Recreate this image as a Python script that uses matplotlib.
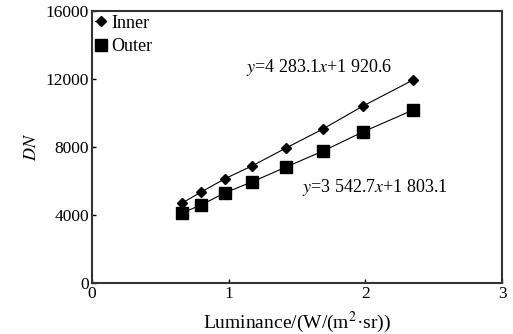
import matplotlib
matplotlib.use("Agg")
import matplotlib.pyplot as plt

plt.rcParams['font.family'] = ['Liberation Serif', 'DejaVu Serif']
plt.rcParams['mathtext.fontset'] = 'stix'

luminance = [0.66, 0.80, 0.97, 1.17, 1.42, 1.69, 1.98, 2.35]
inner_dn = [4700, 5350, 6120, 6880, 7940, 9060, 10400, 11950]
outer_dn = [4120, 4590, 5290, 5940, 6820, 7760, 8880, 10180]
xticks = [0, 1, 2, 3]
yticks = [0, 4000, 8000, 12000, 16000]

fig = plt.figure(figsize=(5.13, 3.34), dpi=100)
ax = fig.add_axes([0.179, 0.153, 0.800, 0.814])

ax.plot(luminance, inner_dn, color='black', lw=0.8, marker='D', markersize=5.5, label='Inner')
ax.plot(luminance, outer_dn, color='black', lw=0.8, marker='s', markersize=8, label='Outer')

ax.set_xlim(0, 3)
ax.set_ylim(0, 16000)
ax.set_xticks(xticks)
ax.set_yticks(yticks)
ax.tick_params(direction='in', labelsize=12.5, length=3, width=1, pad=2)
for s in ax.spines.values():
    s.set_linewidth(1.5)
    s.set_color('#333333')

ax.set_xlabel('Luminance/(W/(m$^2$·sr))', fontsize=14, labelpad=6)
ax.set_ylabel('$DN$', fontsize=13, labelpad=4)

ax.text(1.13, 12700, '$y$=4 283.1$x$+1 920.6', fontsize=13, va='center')
ax.text(1.54, 5590, '$y$=3 542.7$x$+1 803.1', fontsize=13, va='center')

ax.legend(loc='upper left', frameon=False, fontsize=13, handlelength=0.6,
          handletextpad=0.3, borderaxespad=0.0, labelspacing=0.35,
          borderpad=0.2)

fig.savefig('out.png', dpi=100)
